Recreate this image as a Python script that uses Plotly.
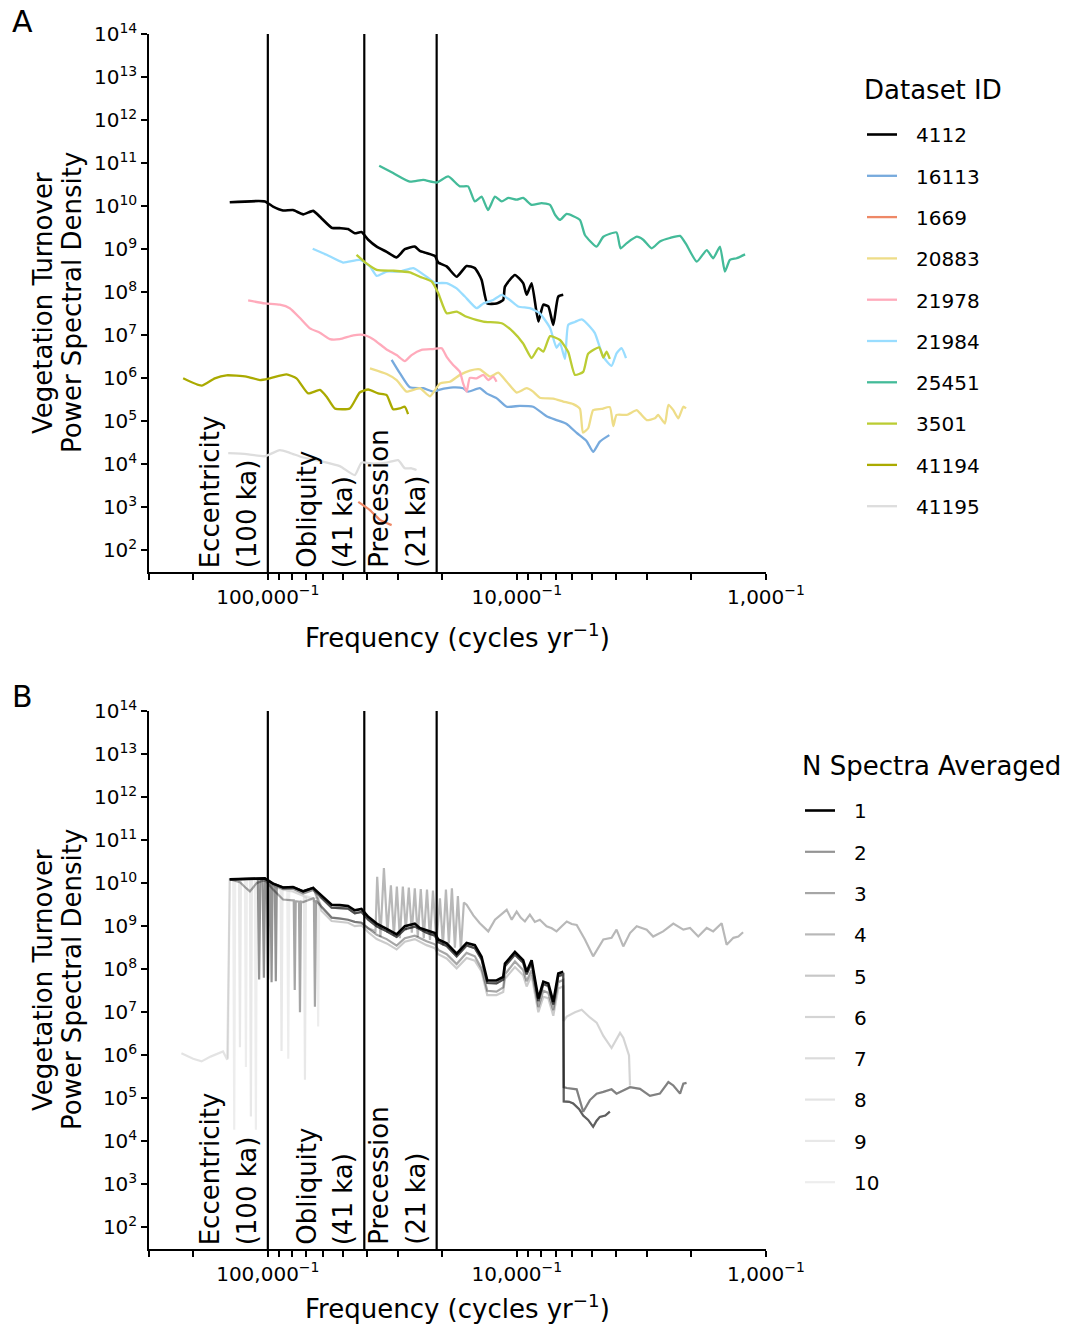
import numpy as np
import plotly.graph_objects as go

# ---------------- Panel A data: log10 frequency (cycles/yr), log10 PSD ----------------
DATASET_IDS = ["4112", "16113", "1669", "20883", "21978", "21984", "25451", "3501", "41194", "41195"]
COLORS = ["#000000", "#77AADD", "#EE8866", "#EEDD88", "#FFAABB", "#99DDFF", "#44BB99", "#BBCC33", "#AAAA00", "#DDDDDD"]

LOGF_4112 = [-5.153, -5.012, -4.979, -4.939, -4.899, -4.858, -4.818, -4.785, -4.744, -4.711, -4.678, -4.651, -4.624,
             -4.597, -4.563, -4.523, -4.483, -4.450, -4.410, -4.390, -4.363, -4.329, -4.316, -4.282, -4.242, -4.202,
             -4.169, -4.142, -4.119, -4.082, -4.055, -4.048, -4.008, -3.975, -3.961, -3.941, -3.914, -3.894, -3.874,
             -3.854, -3.834, -3.814]
LOGP_4112 = [10.09, 10.11, 9.99, 9.90, 9.91, 9.81, 9.89, 9.72, 9.50, 9.49, 9.47, 9.37, 9.40, 9.22, 9.06, 8.94, 8.81,
             9.00, 9.06, 8.96, 8.91, 8.84, 8.69, 8.60, 8.36, 8.61, 8.56, 8.29, 7.74, 7.74, 7.82, 8.13, 8.40, 8.21, 7.94,
             8.21, 7.32, 7.71, 7.67, 7.24, 7.90, 7.94]

LOGF_16113 = [-4.503, -4.470, -4.430, -4.376, -4.336, -4.309, -4.256, -4.216, -4.196, -4.149, -4.122, -4.082, -4.041,
              -3.988, -3.935, -3.881, -3.841, -3.800, -3.760, -3.720, -3.694, -3.667, -3.629]
LOGP_16113 = [6.43, 6.12, 5.79, 5.77, 5.69, 5.74, 5.79, 5.77, 5.69, 5.77, 5.65, 5.54, 5.34, 5.36, 5.34, 5.12, 5.03,
              4.94, 4.73, 4.54, 4.29, 4.53, 4.68]

LOGF_1669 = [-4.637, -4.590, -4.550, -4.503]
LOGP_1669 = [3.13, 2.94, 2.71, 2.59]

LOGF_20883 = [-4.590, -4.523, -4.483, -4.443, -4.390, -4.349, -4.309, -4.269, -4.229, -4.189, -4.149, -4.108, -4.075,
              -4.041, -4.001, -3.961, -3.935, -3.908, -3.854, -3.814, -3.774, -3.747, -3.735, -3.714, -3.694, -3.660,
              -3.627, -3.613, -3.600, -3.559, -3.519, -3.506, -3.479, -3.446, -3.433, -3.406, -3.392, -3.372, -3.352,
              -3.332, -3.321]
LOGP_20883 = [6.23, 6.10, 5.96, 5.69, 5.77, 5.58, 5.88, 5.92, 6.08, 6.18, 6.21, 6.04, 6.13, 5.92, 5.67, 5.77, 5.69,
              5.55, 5.53, 5.46, 5.40, 5.29, 4.74, 4.84, 5.26, 5.29, 5.33, 4.89, 5.15, 5.15, 5.26, 5.19, 5.03, 5.07,
              5.15, 4.95, 5.38, 5.26, 5.07, 5.34, 5.30]

LOGF_21978 = [-5.079, -5.012, -4.952, -4.912, -4.871, -4.831, -4.791, -4.751, -4.711, -4.657, -4.617, -4.577, -4.523,
              -4.483, -4.450, -4.423, -4.383, -4.336, -4.302, -4.282, -4.256, -4.229, -4.216, -4.202, -4.189, -4.162,
              -4.135, -4.115, -4.095, -4.082]
LOGP_21978 = [7.81, 7.74, 7.71, 7.63, 7.40, 7.16, 7.06, 6.91, 6.91, 7.00, 7.01, 6.91, 6.67, 6.54, 6.40, 6.54, 6.66,
              6.68, 6.70, 6.50, 6.31, 6.15, 5.88, 5.69, 6.01, 6.00, 6.08, 5.96, 6.04, 5.92]

LOGF_21984 = [-4.820, -4.764, -4.698, -4.631, -4.590, -4.563, -4.523, -4.470, -4.416, -4.363, -4.329, -4.282, -4.242,
              -4.209, -4.162, -4.135, -4.095, -4.061, -4.028, -3.995, -3.948, -3.908, -3.867, -3.841, -3.827, -3.807,
              -3.794, -3.767, -3.740, -3.707, -3.687, -3.653, -3.620, -3.600, -3.580, -3.562]
LOGP_21984 = [9.01, 8.87, 8.69, 8.75, 8.60, 8.38, 8.48, 8.48, 8.56, 8.36, 8.22, 8.21, 8.09, 7.90, 7.63, 7.74, 7.82,
              7.94, 7.82, 7.67, 7.63, 7.51, 7.17, 6.71, 6.82, 6.45, 7.24, 7.31, 7.37, 7.20, 7.05, 6.50, 6.29, 6.58,
              6.70, 6.47]

LOGF_25451 = [-4.553, -4.497, -4.430, -4.376, -4.323, -4.276, -4.229, -4.196, -4.169, -4.142, -4.116, -4.088, -4.061,
              -4.035, -4.001, -3.975, -3.941, -3.901, -3.867, -3.847, -3.827, -3.800, -3.747, -3.727, -3.680, -3.653,
              -3.600, -3.584, -3.559, -3.519, -3.493, -3.459, -3.426, -3.386, -3.345, -3.319, -3.278, -3.238, -3.212,
              -3.185, -3.165, -3.145, -3.118, -3.084]
LOGP_25451 = [10.94, 10.77, 10.57, 10.61, 10.55, 10.69, 10.46, 10.46, 10.11, 10.22, 9.91, 10.22, 10.11, 10.19, 10.15,
              10.19, 10.03, 10.07, 10.03, 9.80, 9.68, 9.82, 9.68, 9.33, 9.06, 9.29, 9.39, 9.02, 9.14, 9.29, 9.22, 9.02,
              9.18, 9.26, 9.31, 9.10, 8.71, 8.98, 8.79, 9.06, 8.48, 8.75, 8.79, 8.88]

LOGF_3501 = [-4.644, -4.604, -4.563, -4.497, -4.430, -4.390, -4.343, -4.316, -4.282, -4.242, -4.202, -4.135, -4.061,
             -4.015, -3.975, -3.941, -3.914, -3.894, -3.867, -3.827, -3.794, -3.767, -3.734, -3.714, -3.670, -3.653,
             -3.640, -3.627]
LOGP_3501 = [8.87, 8.67, 8.52, 8.50, 8.46, 8.36, 8.25, 7.98, 7.51, 7.55, 7.43, 7.32, 7.28, 7.08, 6.81, 6.47, 6.70,
             6.62, 6.98, 6.89, 6.61, 6.08, 6.15, 6.57, 6.72, 6.48, 6.62, 6.45]

LOGF_41194 = [-5.340, -5.266, -5.213, -5.166, -5.086, -5.032, -4.992, -4.925, -4.885, -4.838, -4.791, -4.764, -4.731,
              -4.671, -4.631, -4.597, -4.557, -4.523, -4.497, -4.470, -4.450, -4.437]
LOGP_41194 = [6.00, 5.83, 6.00, 6.07, 6.04, 5.96, 6.00, 6.09, 6.00, 5.65, 5.73, 5.57, 5.30, 5.30, 5.67, 5.74, 5.65,
              5.61, 5.28, 5.30, 5.34, 5.17]

LOGF_41195 = [-5.159, -5.086, -5.012, -4.952, -4.912, -4.858, -4.791, -4.711, -4.651, -4.624, -4.577, -4.523, -4.477,
              -4.450, -4.423, -4.403]
LOGP_41195 = [4.26, 4.24, 4.19, 4.33, 4.27, 4.16, 4.08, 3.96, 3.75, 4.04, 4.02, 4.04, 4.10, 3.91, 3.91, 3.87]

SERIES_A = [(LOGF_4112, LOGP_4112), (LOGF_16113, LOGP_16113), (LOGF_1669, LOGP_1669), (LOGF_20883, LOGP_20883),
            (LOGF_21978, LOGP_21978), (LOGF_21984, LOGP_21984), (LOGF_25451, LOGP_25451), (LOGF_3501, LOGP_3501),
            (LOGF_41194, LOGP_41194), (LOGF_41195, LOGP_41195)]

# ---------------- Panel B data: averaged spectra (log10 f, log10 PSD), read in pieces ----------------
N_AVG = [1, 2, 3, 4, 5, 6, 7, 8, 9, 10]
N_ALPHA = [1.0, 0.42, 0.35, 0.28, 0.22, 0.17, 0.14, 0.11, 0.09, 0.07]

TOP_FLAT_F = [-5.153, -5.012, -4.979, -4.939, -4.899, -4.858, -4.818]
TOP_FLAT_P = [10.09, 10.11, 9.99, 9.90, 9.91, 9.81, 9.89]

MID_F = [-4.785, -4.744, -4.711, -4.678, -4.651, -4.624, -4.597, -4.563, -4.523, -4.483, -4.450, -4.410, -4.363,
         -4.329, -4.316, -4.282, -4.242, -4.202, -4.169, -4.142, -4.119, -4.082, -4.055, -4.048, -4.008, -3.975,
         -3.961, -3.941, -3.914, -3.894, -3.874, -3.854, -3.834, -3.814]
MID2_P = [9.66, 9.43, 9.42, 9.41, 9.30, 9.33, 9.15, 9.00, 8.88, 8.75, 8.93, 8.99, 8.85, 8.78, 8.63, 8.54, 8.30, 8.55,
          8.49, 8.23, 7.68, 7.67, 7.76, 8.07, 8.34, 8.15, 7.88, 8.15, 7.26, 7.65, 7.61, 7.18, 7.84, 7.88]
LOWER1_P = [9.45, 9.20, 9.18, 9.15, 9.10, 9.08, 8.95, 8.80, 8.70, 8.55, 8.72, 8.78, 8.65, 8.58, 8.45, 8.35, 8.12,
            8.38, 8.30, 8.02, 7.50, 7.48, 7.58, 7.88, 8.18, 7.98, 7.72, 7.98, 7.12, 7.50, 7.45, 7.05, 7.70, 7.75]
LOWER2_P = [9.36, 9.12, 9.10, 9.08, 9.00, 9.02, 8.86, 8.70, 8.60, 8.46, 8.64, 8.70, 8.56, 8.49, 8.35, 8.25, 8.02,
            8.26, 8.20, 7.95, 7.40, 7.40, 7.47, 7.78, 8.05, 7.86, 7.60, 7.86, 7.00, 7.36, 7.33, 6.92, 7.55, 7.60]

T16113_F = [-3.812, -3.790, -3.774, -3.750, -3.734, -3.714, -3.694, -3.680, -3.667, -3.645, -3.627]
T16113_P = [4.93, 4.92, 4.88, 4.75, 4.60, 4.50, 4.34, 4.48, 4.57, 4.60, 4.69]
T20883_F = [-3.812, -3.800, -3.760, -3.734, -3.707, -3.680, -3.653, -3.620, -3.600, -3.573, -3.546, -3.506, -3.466,
            -3.426, -3.392, -3.372, -3.345, -3.332, -3.319]
T20883_P = [5.26, 5.24, 5.21, 4.69, 4.96, 5.11, 5.15, 5.21, 5.11, 5.18, 5.26, 5.22, 5.06, 5.11, 5.38, 5.30, 5.11,
            5.34, 5.36]
HUMP_F = [-3.812, -3.800, -3.767, -3.740, -3.707, -3.680, -3.653, -3.620, -3.586, -3.573, -3.550, -3.546]
HUMP_P = [6.80, 6.90, 7.00, 7.06, 6.88, 6.76, 6.45, 6.17, 6.52, 6.41, 6.00, 5.30]

COMB_F = [-4.575, -4.568, -4.561, -4.548, -4.534, -4.520, -4.506, -4.494, -4.482, -4.470, -4.458, -4.446, -4.434,
          -4.422, -4.410, -4.398, -4.386, -4.374, -4.361, -4.349, -4.337, -4.323, -4.309, -4.297, -4.285, -4.273,
          -4.261, -4.249, -4.237, -4.225, -4.213]
COMB_P = [8.90, 8.85, 10.15, 8.75, 10.35, 8.85, 9.95, 8.78, 9.92, 8.72, 9.92, 8.90, 9.90, 8.85, 9.88, 8.75, 9.86,
          8.72, 9.85, 8.68, 9.83, 8.62, 9.65, 8.55, 9.85, 8.60, 9.88, 8.50, 9.70, 8.45, 9.55]
TOPLINE_F = [-4.202, -4.175, -4.149, -4.115, -4.088, -4.060, -4.041, -4.021, -4.001, -3.985, -3.968, -3.948, -3.928,
             -3.908, -3.881, -3.860, -3.841, -3.820, -3.800, -3.780, -3.760, -3.727, -3.694, -3.653, -3.620, -3.600,
             -3.573, -3.546, -3.519, -3.479, -3.453, -3.413, -3.372, -3.332, -3.305, -3.272, -3.238, -3.212, -3.178,
             -3.158, -3.131, -3.111, -3.092]
TOPLINE_P = [9.50, 9.25, 9.07, 8.88, 9.15, 9.28, 9.38, 9.15, 9.34, 9.20, 9.11, 9.27, 9.10, 9.15, 9.00, 8.95, 8.88,
             9.00, 9.11, 9.05, 9.03, 8.69, 8.30, 8.69, 8.73, 8.92, 8.53, 8.84, 9.00, 8.92, 8.76, 8.88, 9.06, 8.92,
             8.96, 8.76, 8.96, 8.88, 9.07, 8.57, 8.73, 8.76, 8.86]

B2_START_F = [-5.153, -5.040, -5.035, -5.030, -5.021, -5.016, -5.011, -5.004, -4.999, -4.994, -4.989, -4.985, -4.981,
              -4.972, -4.968, -4.964, -4.939, -4.899, -4.858, -4.818]
B2_START_P = [10.09, 10.10, 7.76, 10.10, 10.10, 7.80, 10.08, 10.05, 7.76, 10.00, 9.98, 7.70, 9.97, 9.95, 7.72, 9.93,
              9.86, 9.87, 9.76, 9.84]
B3_START_F = [-5.153, -5.112, -5.090, -5.072, -5.045, -5.012, -4.979, -4.939, -4.899, -4.896, -4.892, -4.888, -4.875,
              -4.871, -4.867, -4.858, -4.818, -4.815, -4.811, -4.807, -4.800]
B3_START_P = [10.09, 10.02, 9.90, 9.81, 10.00, 10.08, 9.85, 9.62, 9.60, 9.60, 7.52, 9.58, 9.57, 7.00, 9.57, 9.56,
              9.65, 9.63, 7.13, 9.60, 9.55]
B9_START_F = [-5.153, -5.116, -5.112, -5.108, -5.072, -5.068, -5.064, -5.012, -4.979, -4.949, -4.945, -4.941, -4.899,
              -4.855, -4.851, -4.847, -4.818]
B9_START_P = [10.09, 10.09, 6.19, 10.09, 10.10, 4.58, 10.10, 10.10, 9.95, 9.85, 6.10, 9.85, 9.80, 9.70, 5.43, 9.70,
              9.65]
B10_START_F = [-5.160, -5.153, -5.139, -5.135, -5.131, -5.092, -5.088, -5.084, -5.052, -5.048, -5.044, -5.012, -4.979,
               -4.922, -4.918, -4.914, -4.858, -4.802, -4.798, -4.794]
B10_START_P = [5.92, 10.09, 10.09, 4.27, 10.09, 10.09, 5.73, 10.09, 10.10, 4.27, 10.10, 10.10, 9.95, 9.85, 5.92, 9.85,
               9.70, 9.55, 6.67, 9.55]
S41194_F = [-5.347, -5.300, -5.266, -5.230, -5.180, -5.163]
S41194_P = [6.05, 5.92, 5.86, 5.97, 6.09, 5.90]


def join(*parts):
    f, p = [], []
    for pf, pp in parts:
        f += list(pf)
        p += list(pp)
    return f, p


SERIES_B = {
    1: (LOGF_4112, LOGP_4112),
    2: join((B2_START_F, B2_START_P), (MID_F, MID2_P), (T16113_F, T16113_P)),
    3: join((B3_START_F, B3_START_P), (MID_F, LOWER1_P), (T20883_F, T20883_P)),
    4: join((TOP_FLAT_F, TOP_FLAT_P), (MID_F[:7], LOWER1_P[:7]), (COMB_F, COMB_P), (TOPLINE_F, TOPLINE_P)),
    5: join((TOP_FLAT_F, TOP_FLAT_P), (MID_F, MID2_P), (T20883_F, T20883_P)),
    6: join((TOP_FLAT_F, TOP_FLAT_P), (MID_F, MID2_P), (HUMP_F, HUMP_P)),
    7: join((TOP_FLAT_F, TOP_FLAT_P), (MID_F, LOWER2_P), (T16113_F, T16113_P)),
    8: join((S41194_F, S41194_P), (TOP_FLAT_F, TOP_FLAT_P), (MID_F, MID2_P), (T16113_F, T16113_P)),
    9: join((B9_START_F, B9_START_P), (MID_F, MID2_P), (T16113_F, T16113_P)),
    10: join((B10_START_F, B10_START_P), (MID_F, LOWER2_P), (T16113_F, T16113_P)),
}

# ---------------- axis ticks and annotation texts ----------------
TICK_PERIODS = [300000, 200000, 100000, 90000, 80000, 70000, 60000, 50000, 40000, 30000, 20000, 10000,
                9000, 8000, 7000, 6000, 5000, 4000, 3000, 2000, 1000]
LABELLED = {100000: "100,000<sup>−1</sup>", 10000: "10,000<sup>−1</sup>", 1000: "1,000<sup>−1</sup>"}
Y_EXPONENTS = list(range(2, 15))
CYCLES = [("Eccentricity", "(100 ka)", 100000), ("Obliquity", "(41 ka)", 41000), ("Precession", "(21 ka)", 21000)]
Y_RANGE = [1.5, 14]

FONT = "DejaVu Sans"
W, H = 1067, 1326
ML, MT = 149, 34
PW, PH = 617, 1215
MR = W - ML - PW
MB = H - MT - PH
DOM_A = [(PH - 538) / PH, 1.0]
DOM_B = [0.0, 538 / PH]


def px_x(sx):
    return (sx - ML) / PW


def px_y(sy):
    return (H - MB - sy) / PH


fig = go.Figure()

# orbital cycle reference lines
for xa, ya in (("x", "y"), ("x2", "y2")):
    for _, _, period in CYCLES:
        fig.add_trace(go.Scatter(x=[1.0 / period, 1.0 / period], y=[10 ** Y_RANGE[0], 10 ** Y_RANGE[1]],
                                 mode="lines", line=dict(color="black", width=2.2), showlegend=False,
                                 hoverinfo="skip", xaxis=xa, yaxis=ya, cliponaxis=False))

LEG_PAD = "\u2002\u2009"
for i, (ds, col, (lf, lp)) in enumerate(zip(DATASET_IDS, COLORS, SERIES_A)):
    fig.add_trace(go.Scatter(
        x=10 ** np.array(lf), y=10 ** np.array(lp), mode="lines", name=LEG_PAD + ds,
        line=dict(color=col, width=2.6 if i == 0 else 2.3, shape="spline", smoothing=0.5),
        xaxis="x", yaxis="y", legend="legend", legendgroup="a" + ds, legendrank=i + 1,
    ))

for n in reversed(N_AVG):
    lf, lp = SERIES_B[n]
    a = N_ALPHA[n - 1]
    fig.add_trace(go.Scatter(
        x=10 ** np.array(lf), y=10 ** np.array(lp), mode="lines", name=LEG_PAD + str(n),
        line=dict(color=f"rgba(0,0,0,{a})", width=2.6 if n == 1 else 2.2),
        xaxis="x2", yaxis="y2", legend="legend2", legendgroup="b" + str(n), legendrank=n,
    ))

tickvals = [1.0 / p for p in TICK_PERIODS]
ticktext = [LABELLED.get(p, "") for p in TICK_PERIODS]
xcommon = dict(type="log", range=[np.log10(1 / 300000), -3], tickvals=tickvals, ticktext=ticktext,
               ticks="outside", ticklen=6, tickwidth=1.5, tickcolor="black", showline=True, linecolor="black",
               linewidth=1.5, showgrid=False, zeroline=False, tickfont=dict(size=20, family=FONT, color="black"),
               domain=[0, 1])
ycommon = dict(type="log", range=Y_RANGE, tickvals=[10.0 ** e for e in Y_EXPONENTS],
               ticktext=[f"10<sup>{e}</sup>" for e in Y_EXPONENTS], ticks="outside", ticklen=6, tickwidth=1.5,
               tickcolor="black", showline=True, linecolor="black", linewidth=1.5, showgrid=False, zeroline=False,
               tickfont=dict(size=20, family=FONT, color="black"))

annotations = []
tfont = dict(size=26, family=FONT, color="black")
for xa, ya in (("x", "y"), ("x2", "y2")):
    for line1, line2, period in CYCLES:
        lx = np.log10(1.0 / period)
        for txt, shift in ((line2, -4), (line1, -41)):
            annotations.append(dict(text=txt, xref=xa, yref=ya + " domain", x=lx, y=0, xanchor="right",
                                    yanchor="bottom", textangle=-90, showarrow=False,
                                    xshift=shift, yshift=2, font=tfont))

for letter, ytop, ycen_title, yxt in (("A", 21, 303, 636), ("B", 697, 980, 1307)):
    annotations.append(dict(text=letter, xref="paper", yref="paper", x=px_x(22), y=px_y(ytop), xanchor="center",
                            yanchor="middle", showarrow=False, font=dict(size=30, family=FONT, color="black")))
    annotations.append(dict(text="Vegetation Turnover", xref="paper", yref="paper",
                            x=px_x(43), y=px_y(ycen_title), xanchor="center", yanchor="middle", textangle=-90,
                            showarrow=False, font=tfont))
    annotations.append(dict(text="Power Spectral Density", xref="paper", yref="paper",
                            x=px_x(72), y=px_y(ycen_title), xanchor="center", yanchor="middle", textangle=-90,
                            showarrow=False, font=tfont))
    annotations.append(dict(text="Frequency (cycles yr<sup>−1</sup>)", xref="paper", yref="paper",
                            x=0.5, y=px_y(yxt), xanchor="center", yanchor="middle", showarrow=False,
                            font=tfont))

annotations.append(dict(text="Dataset ID", xref="paper", yref="paper", x=px_x(862), y=px_y(90),
                        xanchor="left", yanchor="middle", showarrow=False, font=tfont))
annotations.append(dict(text="N Spectra Averaged", xref="paper", yref="paper", x=px_x(800), y=px_y(766),
                        xanchor="left", yanchor="middle", showarrow=False, font=tfont))

fig.update_layout(
    width=W, height=H, autosize=False, margin=dict(l=ML, r=MR, t=MT, b=MB),
    paper_bgcolor="white", plot_bgcolor="white", font=dict(family=FONT, color="black"),
    xaxis=dict(**xcommon, anchor="y"),
    yaxis=dict(**ycommon, domain=DOM_A, anchor="x"),
    xaxis2=dict(**xcommon, anchor="y2"),
    yaxis2=dict(**ycommon, domain=DOM_B, anchor="x2"),
    annotations=annotations,
    legend=dict(x=px_x(862), y=px_y(115), xanchor="left", yanchor="top", traceorder="grouped",
                tracegroupgap=12.3, itemwidth=30, bgcolor="rgba(0,0,0,0)",
                font=dict(size=20, family=FONT, color="black")),
    legend2=dict(x=px_x(800), y=px_y(791), xanchor="left", yanchor="top", traceorder="grouped",
                 tracegroupgap=12.3, itemwidth=30, bgcolor="rgba(0,0,0,0)",
                 font=dict(size=20, family=FONT, color="black")),
    showlegend=True,
)

fig.write_html("out.html", config={"displayModeBar": False},
               post_script="document.body.style.margin='0px';document.body.style.overflow='hidden';")
